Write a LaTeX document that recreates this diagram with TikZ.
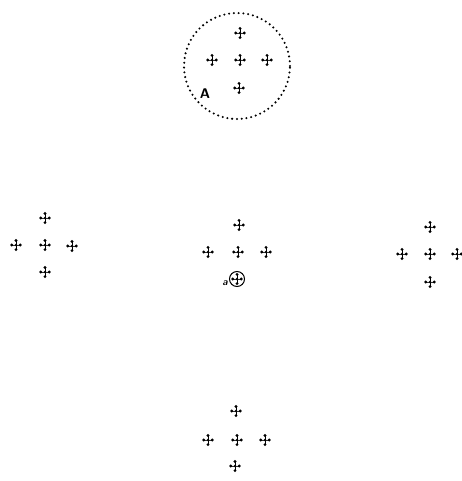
\documentclass[tikz,border=0pt]{standalone}
\usepackage{tikz}
\begin{document}
\begin{tikzpicture}[x=1pt,y=-1pt,
  crs/.style={inner sep=0pt, minimum width=13pt, minimum height=14pt,
    path picture={
      \draw[line width=0.9pt,black] ([yshift=4.8pt]path picture bounding box.center) -- ([yshift=-4.8pt]path picture bounding box.center);
      \draw[line width=0.6pt,black!80] ([xshift=4.3pt]path picture bounding box.center) -- ([xshift=-4.3pt]path picture bounding box.center);
      \fill[black] ([yshift=4.6pt]path picture bounding box.center) circle (1.6pt);
      \fill[black] ([yshift=-4.6pt]path picture bounding box.center) circle (1.6pt);
      \fill[black] ([xshift=4.2pt]path picture bounding box.center) circle (1.6pt);
      \fill[black] ([xshift=-4.2pt]path picture bounding box.center) circle (1.6pt);
      \fill[black] (path picture bounding box.center) circle (1.3pt);
    }},
  ring/.style={draw, circle, line width=1pt, minimum size=15pt, inner sep=0pt},
  dotring/.style={draw, circle, line width=2.3pt, line cap=round, dash pattern=on 0pt off 4.8pt, minimum size=106pt, inner sep=0pt},
  lab/.style={inner sep=0pt}
]
\useasboundingbox (0,0) rectangle (461,481);
% top cluster
\node[dotring] (big) at (237,66) {};
\node[crs] (t1) at (240,33) {};
\node[crs] (t2) at (212,60) {};
\node[crs] (t3) at (240,60) {};
\node[crs] (t4) at (267,60) {};
\node[crs] (t5) at (239,88) {};
\node[lab, font=\sffamily\bfseries\fontsize{14}{14}\selectfont] (A) at (205,94) {A};
% left cluster
\node[crs] (l1) at (45,218) {};
\node[crs] (l2) at (16,245) {};
\node[crs] (l3) at (45,245) {};
\node[crs] (l4) at (72,246) {};
\node[crs] (l5) at (45,272) {};
% center cluster
\node[crs] (c1) at (239,225) {};
\node[crs] (c2) at (208,252) {};
\node[crs] (c3) at (238,252) {};
\node[crs] (c4) at (266,252) {};
\node[crs] (c5) at (237,279) {};
\node[ring] (cr) at (237,279) {};
\node[lab, font=\sffamily\bfseries\itshape\fontsize{10}{10}\selectfont] (a) at (225,283) {a};
% right cluster
\node[crs] (r1) at (430,227) {};
\node[crs] (r2) at (402,254) {};
\node[crs] (r3) at (430,254) {};
\node[crs] (r4) at (457,254) {};
\node[crs] (r5) at (430,282) {};
% bottom cluster
\node[crs] (b1) at (236,411) {};
\node[crs] (b2) at (208,440) {};
\node[crs] (b3) at (237,440) {};
\node[crs] (b4) at (265,440) {};
\node[crs] (b5) at (235,466) {};
\end{tikzpicture}
\end{document}
